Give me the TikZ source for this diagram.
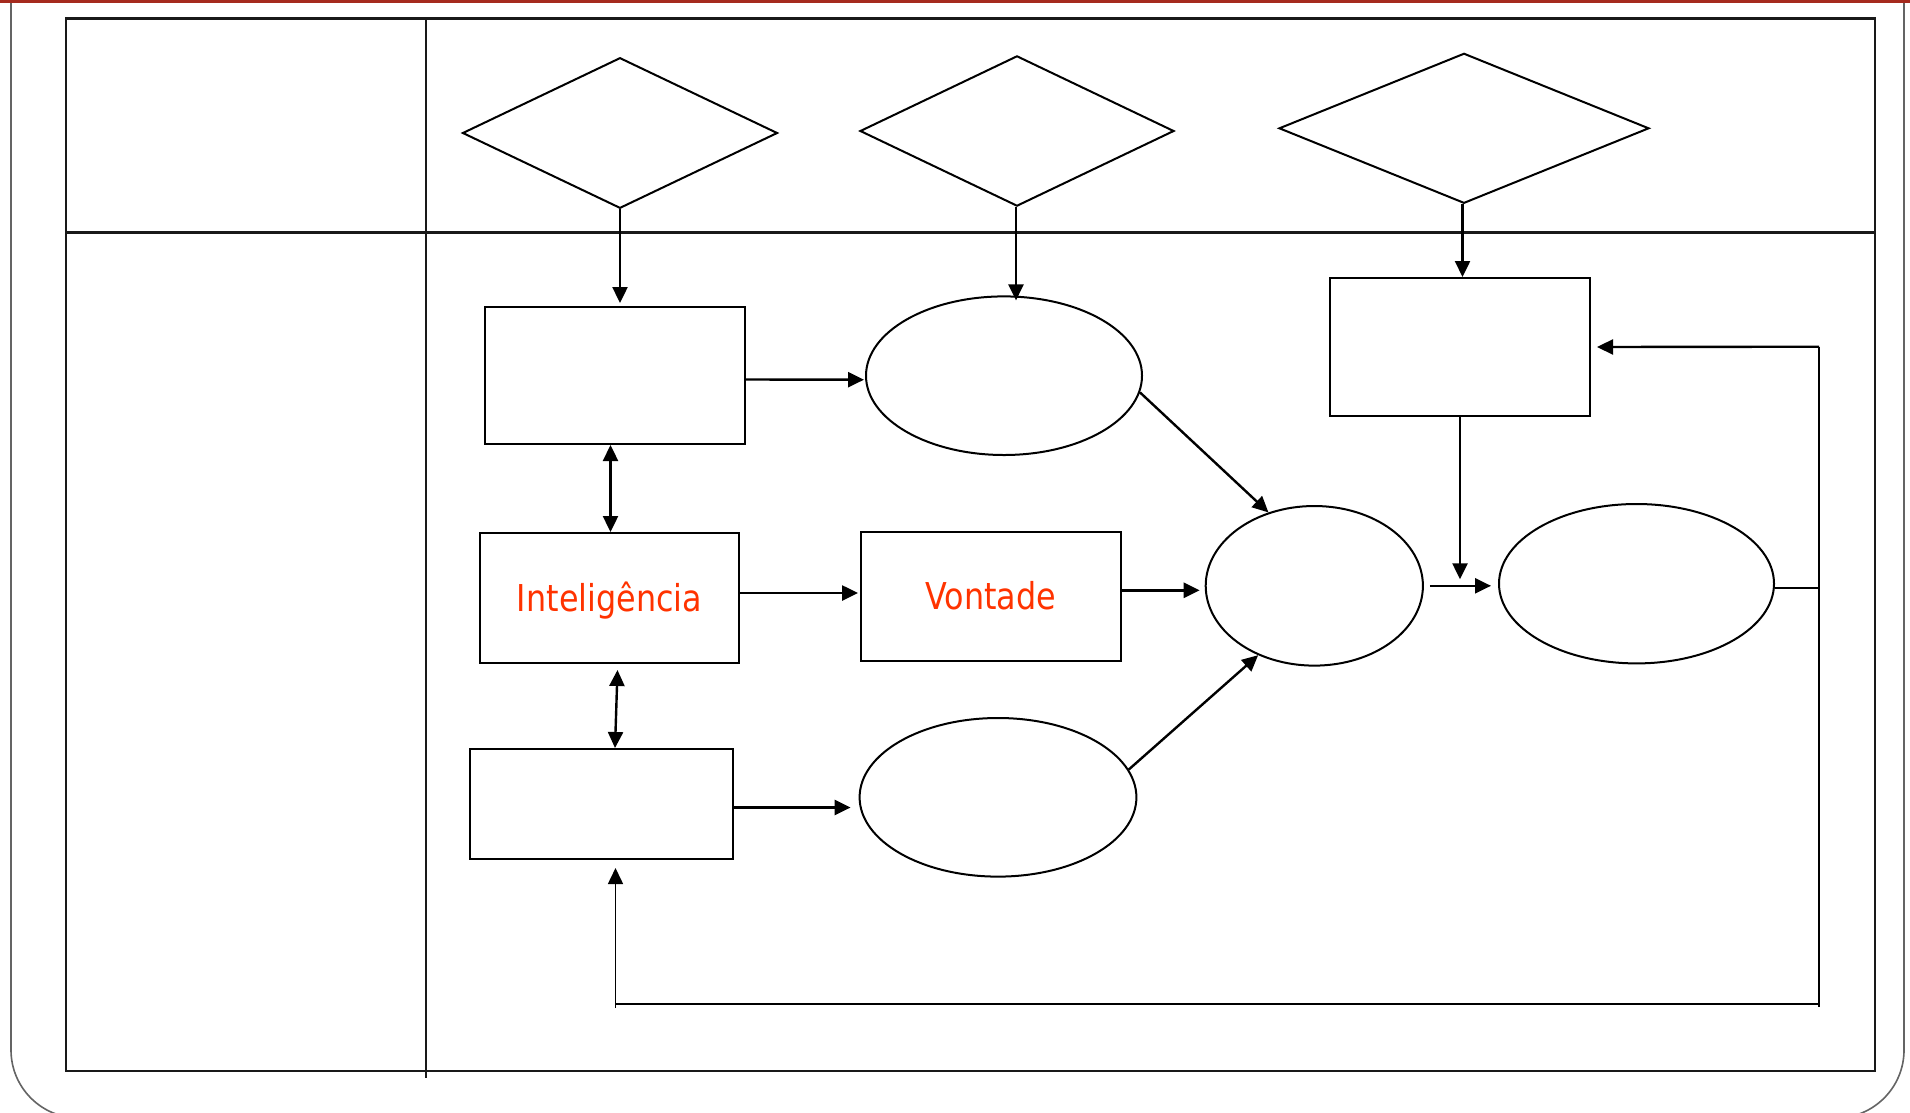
\documentclass[tikz,border=0pt]{standalone}
\usepackage{fontspec}
\newfontfamily\lblfont{DejaVu Sans}[FakeStretch=0.86]
\usetikzlibrary{arrows.meta,shapes.geometric}
\definecolor{lblred}{RGB}{255,51,0}
\definecolor{topred}{RGB}{165,42,30}
\definecolor{framegray}{RGB}{100,100,100}
\begin{document}
\begin{tikzpicture}[x=1pt, y=-1pt,
  box/.style={draw, rectangle, line width=2pt, inner sep=0pt},
  ell/.style={draw, ellipse, line width=2pt, inner sep=0pt},
  dia/.style={draw, diamond, line width=2pt, inner sep=0pt},
  arr/.style={line width=2.4pt, -{Triangle[length=16pt,width=15pt]}},
  darr/.style={line width=2.4pt, {Triangle[length=16pt,width=15pt]}-{Triangle[length=16pt,width=15pt]}},
  lbl/.style={text=lblred, font=\lblfont\fontsize{37}{40}\selectfont, text height=27pt, text depth=0pt},
  tbl/.style={line width=2.5pt, draw=black!90}]
\useasboundingbox (0,0) rectangle (1910,1112);
\clip (0,0) rectangle (1910,1112);
\fill[white] (0,0) rectangle (1910,1112);
% slide frame
\draw[framegray, line width=1.6pt, rounded corners=68pt] (11,-40) -- (11,1118) -- (1904,1118) -- (1904,-40);
\fill[topred] (0,0) rectangle (1910,3.4);
% table
\draw[tbl] (66,18.5) rectangle (1875,1071);
\draw[tbl] (426,18.5) -- (426,1078);
\draw[tbl] (66,232.3) -- (1875,232.3);
% diamonds
\node[dia, minimum width=315pt, minimum height=150.6pt] (D1) at (620,133) {};
\node[dia, minimum width=314pt, minimum height=150.3pt] (D2) at (1017,131) {};
\node[dia, minimum width=370pt, minimum height=150pt] (D3) at (1464,128.3) {};
% boxes
\node[box, minimum width=260pt, minimum height=137pt] (B1) at (615,375.5) {};
\node[box, minimum width=259pt, minimum height=130pt, lbl] (B2) at (609.5,598) {Inteligência};
\node[box, minimum width=263pt, minimum height=110pt] (B3) at (601.5,804) {};
\node[box, minimum width=259.5pt, minimum height=129.5pt, lbl] (V) at (990.8,596.3) {Vontade};
\node[box, minimum width=260pt, minimum height=138pt] (R) at (1460,347) {};
% ellipses
\node[ell, minimum width=276pt, minimum height=158.6pt] (E1) at (1004,375.7) {};
\node[ell, minimum width=276.8pt, minimum height=158.6pt] (E2) at (998,797.3) {};
\node[ell, minimum width=217.2pt, minimum height=159.6pt] (E3) at (1314.3,585.8) {};
\node[ell, minimum width=275pt, minimum height=159.4pt] (E4) at (1636.5,583.7) {};
% feedback corner points
\coordinate (fbTR) at (1819,346.7);
\coordinate (fbBR) at (1819,1004);
\coordinate (fbBL) at (615.5,1004);
% connectors
\draw[arr] (D1.south) -- ([yshift=3pt]D1.south |- B1.north);
\draw[arr] ([xshift=-1pt]D2.south) -- ([xshift=-1pt,yshift=-5pt]D2.south |- E1.north);
\draw[arr] ([xshift=-1.5pt]D3.south) -- ([xshift=-1.5pt]D3.south |- R.north);
\draw[arr] ([yshift=-4pt]B1.east) -- ([yshift=-4pt,xshift=-1pt]E1.west);
\draw[darr] ([xshift=1pt]B2.north) -- ([xshift=1pt]B2.north |- B1.south);
\draw[darr] ([xshift=8pt,yshift=-6pt]B2.south) -- ([xshift=13.5pt]B3.north);
\draw[arr] ([yshift=5pt]B2.east) -- ([yshift=5pt,xshift=-2pt]B2.east -| V.west);
\draw[arr] ([yshift=-3.5pt]B3.east) -- ([yshift=-3.5pt,xshift=-8pt]B3.east -| E2.west);
\draw[arr] ([yshift=6pt]V.east) -- ([yshift=6pt,xshift=-5pt]V.east -| E3.west);
\draw[arr] (E1.-7.8) -- (E3.122);
\draw[arr] (E2.12.9) -- (E3.231.5);
\draw[arr, shorten <=6pt, shorten >=7pt] (E3.east) -- (E3.east -| E4.west);
\draw[arr] (R.south) -- ([yshift=6.5pt]R.south |- E3.east);
% feedback loop
\draw[line width=1.6pt] ([yshift=-4pt]E4.east) -- ([yshift=-4pt]E4.east -| fbTR);
\draw[line width=1.6pt] (fbTR) -- ([yshift=-2.5pt]fbBR);
\draw[line width=2.6pt] (fbBR) -- (fbBL);
\draw[arr, line width=1.6pt] ([yshift=-4pt]fbBL) -- ([yshift=-8pt]fbBL |- B3.south);
\draw[arr] (fbTR) -- ([xshift=6pt]R.east);
\end{tikzpicture}
\end{document}
